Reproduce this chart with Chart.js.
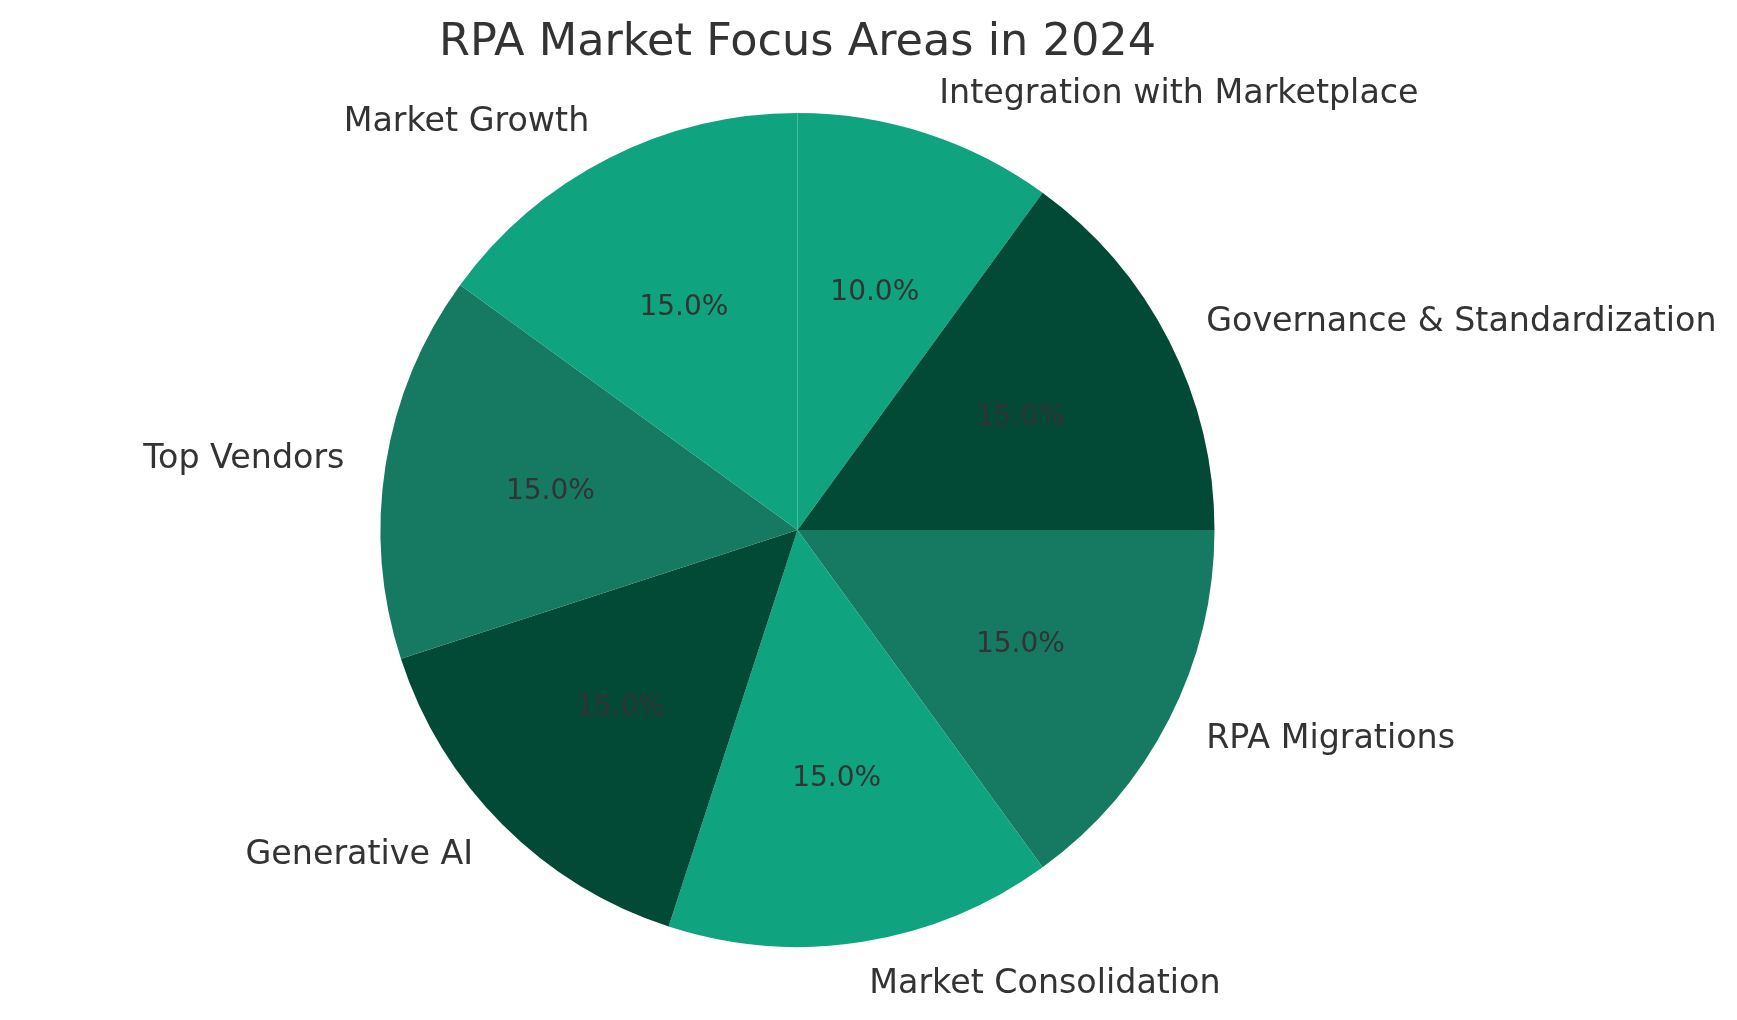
<!DOCTYPE html>
<html>
<head>
<meta charset="utf-8">
<script src="https://cdn.jsdelivr.net/npm/chart.js@4/dist/chart.umd.min.js"></script>
<style>
html,body{margin:0;padding:0;background:#ffffff;}
#wrap{width:1737px;height:1020px;position:relative;}
</style>
</head>
<body>
<div id="wrap"><canvas id="c" width="1737" height="1020"></canvas></div>
<script>
const chartTitle = "RPA Market Focus Areas in 2024";
const categories = ["Integration with Marketplace", "Governance & Standardization", "RPA Migrations", "Market Consolidation", "Generative AI", "Top Vendors", "Market Growth"];
const shares = [10, 15, 15, 15, 15, 15, 15];
const sliceColors = ["#10a37f", "#034a36", "#167a62", "#10a37f", "#034a36", "#167a62", "#10a37f"];

const textColor = "#333333";
const fontFamily = "'DejaVu Sans', sans-serif";
const labelSize = 33.3;
const pctSize = 28;
const titleSize = 44.6;

const labelPlugin = {
  id: 'pieLabels',
  afterDraw(chart) {
    const ctx = chart.ctx;
    const meta = chart.getDatasetMeta(0);
    const total = shares.reduce((a, b) => a + b, 0);
    ctx.save();
    ctx.fillStyle = textColor;
    ctx.textBaseline = 'alphabetic';
    meta.data.forEach((arc, i) => {
      const p = arc.getProps(['x', 'y', 'startAngle', 'endAngle', 'outerRadius'], true);
      const mid = (p.startAngle + p.endAngle) / 2;
      const cx = Math.cos(mid), cy = Math.sin(mid);
      const lr = p.outerRadius * 1.1;
      const lx = p.x + cx * lr;
      const ly = p.y + cy * lr;
      ctx.font = labelSize + "px " + fontFamily;
      ctx.textAlign = cx > 1e-9 ? 'left' : (cx < -1e-9 ? 'right' : 'center');
      ctx.fillText(categories[i], lx, ly + 0.29 * labelSize);
      const pr = p.outerRadius * 0.6;
      const px = p.x + cx * pr;
      const py = p.y + cy * pr;
      ctx.font = pctSize + "px " + fontFamily;
      ctx.textAlign = 'center';
      const pct = (shares[i] / total * 100).toFixed(1) + '%';
      ctx.fillText(pct, px, py + 0.3 * pctSize);
    });
    ctx.font = titleSize + "px " + fontFamily;
    ctx.textAlign = 'center';
    ctx.fillText(chartTitle, meta.data[0].x, 55);
    ctx.restore();
  }
};

new Chart(document.getElementById('c'), {
  type: 'pie',
  data: {
    labels: categories,
    datasets: [{
      data: shares,
      backgroundColor: sliceColors,
      borderWidth: 0,
      hoverOffset: 0
    }]
  },
  options: {
    responsive: false,
    animation: false,
    devicePixelRatio: 1,
    rotation: 0,
    layout: { padding: { top: 113, bottom: 73, left: 300, right: 442 } },
    plugins: {
      legend: { display: false },
      tooltip: { enabled: false },
      title: { display: false }
    }
  },
  plugins: [labelPlugin]
});
</script>
</body>
</html>
